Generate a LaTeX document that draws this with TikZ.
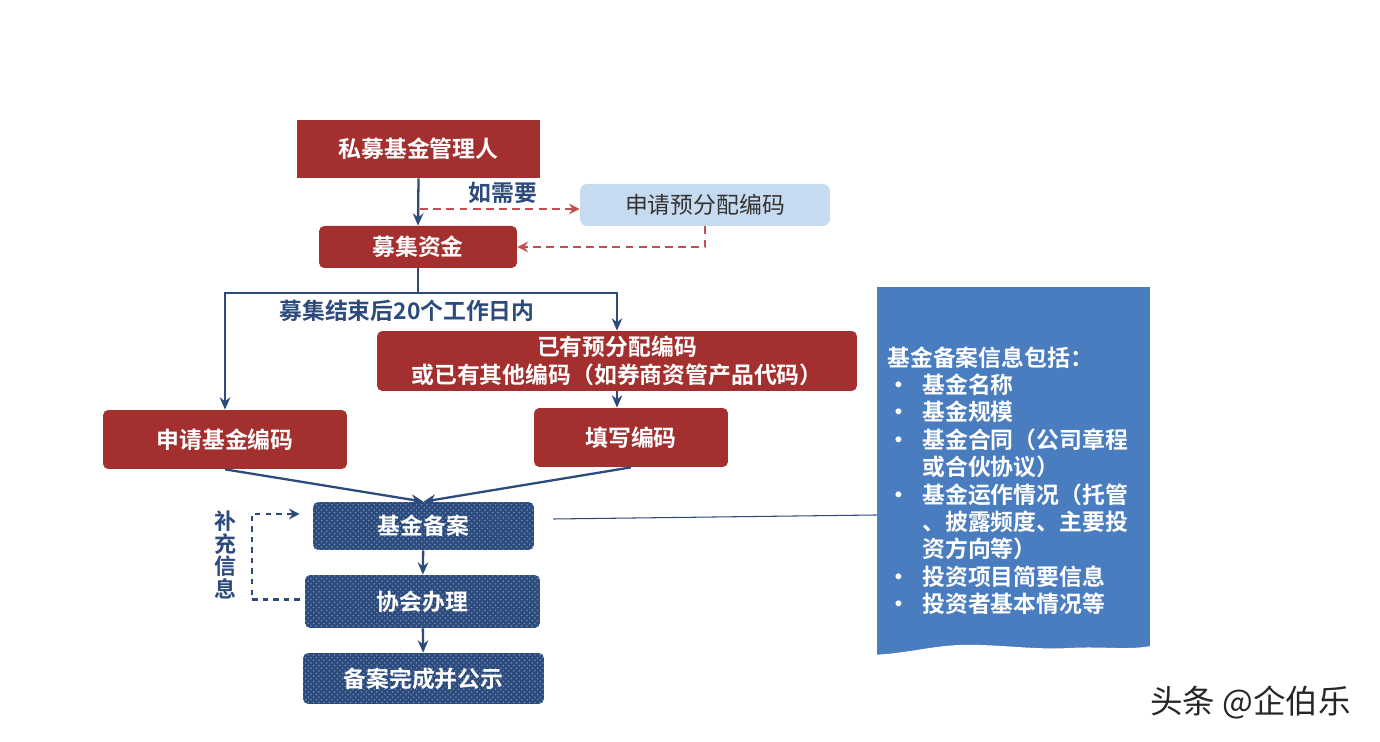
\documentclass[tikz,border=0pt]{standalone}
\usepackage{fontspec}
\setmainfont{Noto Sans CJK SC}[BoldFont={Noto Sans CJK SC Bold}]
\usetikzlibrary{arrows.meta,patterns}
\definecolor{boxred}{HTML}{A3302F}
\definecolor{codeblue}{HTML}{C7DBF0}
\definecolor{boxnavy}{HTML}{2C4A7C}
\definecolor{dotblue}{HTML}{6F8DB8}
\definecolor{panelblue}{HTML}{4A7DC0}
\definecolor{askred}{HTML}{C0504D}
\begin{document}
\begin{tikzpicture}[x=0.02cm,y=-0.02cm,
  redbox/.style={fill=boxred,text=white,font=\fontsize{13}{16}\selectfont\bfseries,rounded corners=3pt,align=center,inner sep=0pt},
  navybox/.style={fill=boxnavy,postaction={pattern=crosshatch dots,pattern color=dotblue},text=white,font=\fontsize{13}{16}\selectfont\bfseries,rounded corners=3pt,inner sep=0pt},
  flow/.style={draw=boxnavy,line width=1.3pt,-{Stealth[length=7pt,width=6pt]}},
  ask/.style={draw=askred,dash pattern=on 4.5pt off 3pt,line width=1.3pt,-{Stealth[length=6pt,width=6pt]}},
  note/.style={text=boxnavy,font=\fontsize{13}{16}\selectfont\bfseries}]
\useasboundingbox (0,0) rectangle (1380,742);
% boxes of the flow
\node[redbox,rounded corners=0pt,minimum width=4.86cm,minimum height=1.16cm] (mgr) at (418.5,149) {私募基金管理人};
\node[fill=codeblue,rounded corners=4pt,minimum width=5cm,minimum height=0.84cm,inner sep=0pt,text=black!80,font=\fontsize{13}{16}\selectfont] (pre) at (705,205) {申请预分配编码};
\node[redbox,minimum width=3.96cm,minimum height=0.84cm] (raise) at (418,247) {募集资金};
\node[redbox,minimum width=9.6cm,minimum height=1.2cm] (have) at (617,361) {已有预分配编码\\或已有其他编码（如券商资管产品代码）};
\node[redbox,minimum width=4.88cm,minimum height=1.18cm] (apply) at (225,439.5) {申请基金编码};
\node[redbox,minimum width=3.88cm,minimum height=1.18cm] (fillcode) at (631,437.5) {填写编码};
\node[navybox,minimum width=4.42cm,minimum height=0.96cm] (record) at (423.5,526) {基金备案};
\node[navybox,minimum width=4.7cm,minimum height=1.06cm] (assoc) at (422.5,601.5) {协会办理};
\node[navybox,minimum width=4.82cm,minimum height=1.02cm] (done) at (423.5,678.5) {备案完成并公示};
% info panel
\node[fill=panelblue,minimum width=5.46cm,minimum height=7.36cm,inner sep=0pt] (info) at (1013.5,471) {};
\fill[white] (870,662) -- (870,655) .. controls (905,654) and (930,646) .. (960,645) .. controls (1000,644) and (1030,650) .. (1070,648) .. controls (1105,646) and (1130,651) .. (1156,645) -- (1156,662) -- cycle;
\node[anchor=north west,text=white,font=\fontsize{13}{15.6}\selectfont\bfseries,align=left,inner sep=0pt] (infotxt) at (887,346) {基金备案信息包括：\\
\makebox[0.7cm][l]{•}基金名称\\
\makebox[0.7cm][l]{•}基金规模\\
\makebox[0.7cm][l]{•}基金合同（公司章程\\
\hspace*{0.7cm}或合伙协议）\\
\makebox[0.7cm][l]{•}基金运作情况（托管\\
\hspace*{0.7cm}、披露频度、主要投\\
\hspace*{0.7cm}资方向等）\\
\makebox[0.7cm][l]{•}投资项目简要信息\\
\makebox[0.7cm][l]{•}投资者基本情况等};
% connectors
\draw[flow] (mgr.south) -- (raise.north);
\coordinate (split) at (420,209);
\draw[ask] (split) -- (split -| pre.west);
\node[note] (need) at (503,193) {如需要};
\draw[ask] (pre.south) |- (raise.east);
\draw[boxnavy,line width=1.3pt] (raise.south) -- ++(0,25) coordinate (fork);
\draw[flow] (fork) -| (apply.north);
\draw[flow] (fork) -| (have.north);
\node[note] (within) at (407,311) {募集结束后20个工作日内};
\draw[flow] (have.south) -- (have.south |- fillcode.north);
\draw[flow] (apply.south) -- (record.north);
\draw[flow] (fillcode.south) -- (record.north);
\draw[flow] (record) -- (assoc);
\draw[flow] (assoc) -- (done);
\draw[boxnavy,dashed,line width=1.3pt,-{Stealth[length=6pt,width=6pt]}] (assoc.west) ++(-5,-2) coordinate (back) -- ++(-48,0) |- ([xshift=-0.26cm,yshift=0.24cm]record.west);
\node[note,align=center,font=\fontsize{12.5}{12.8}\selectfont\bfseries] (extra) at (225,555) {补\\充\\信\\息};
\draw[boxnavy,line width=0.6pt] ([xshift=0.38cm,yshift=0.14cm]record.east) -- ([yshift=-0.88cm]info.west);
\node[anchor=east,text=black!85,font=\fontsize{18.5}{22}\selectfont] (mark) at (1357,703) {头条 @企伯乐};
\end{tikzpicture}
\end{document}
